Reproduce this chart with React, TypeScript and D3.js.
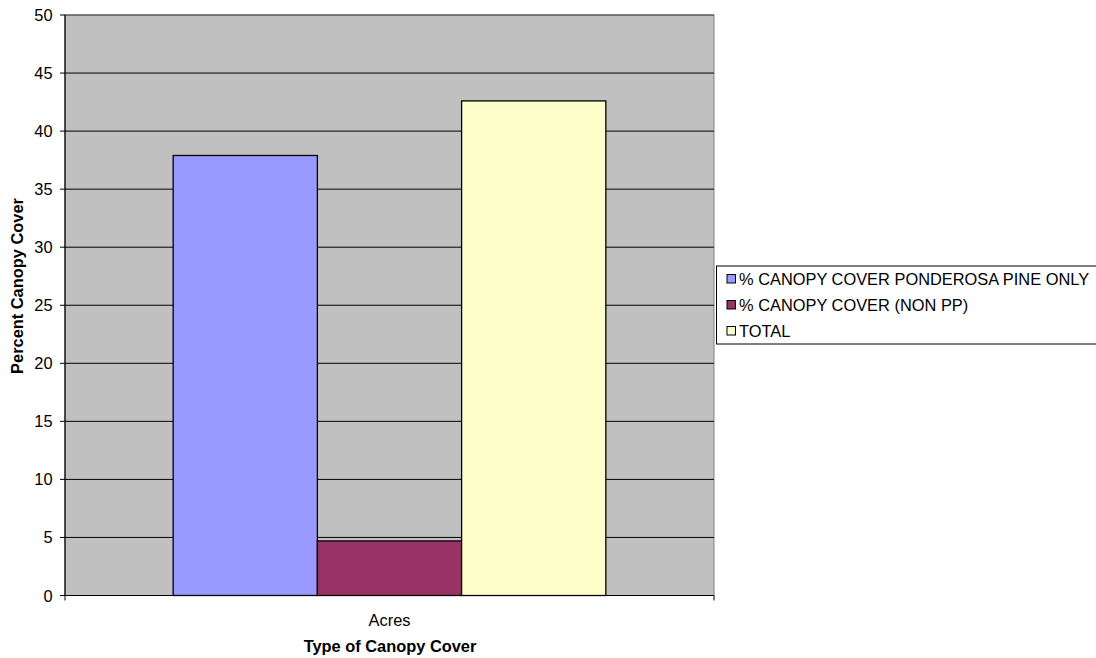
import React from "react";
import * as d3 from "d3";

const categories = ["Acres"];
const seriesNames = [
  "% CANOPY COVER PONDEROSA PINE ONLY",
  "% CANOPY COVER (NON PP)",
  "TOTAL",
];
const seriesValues = [37.9, 4.7, 42.6];
const seriesColors = ["#9999FF", "#993366", "#FFFFCC"];
const yTicks = [0, 5, 10, 15, 20, 25, 30, 35, 40, 45, 50];

const W = 1096;
const H = 658;
const plot = { left: 65, top: 15, right: 714, bottom: 595.5 };
const FONT = "'Liberation Sans', Arial, sans-serif";
const FS = 16.4;

export default function App() {
  const y = d3.scaleLinear().domain([0, 50]).range([plot.bottom, plot.top]);
  const x0 = d3
    .scaleBand<string>()
    .domain(categories)
    .range([plot.left, plot.right])
    .paddingInner(0)
    .paddingOuter(0.25);
  const x1 = d3
    .scaleBand<string>()
    .domain(seriesNames)
    .range([0, x0.bandwidth()]);

  return (
    <svg
      width={W}
      height={H}
      style={{ position: "absolute", left: 0, top: 0, background: "#fff" }}
      fontFamily={FONT}
    >
      <rect
        x={plot.left}
        y={plot.top}
        width={plot.right - plot.left}
        height={plot.bottom - plot.top}
        fill="#C0C0C0"
        stroke="#808080"
        strokeWidth={1}
      />
      {yTicks.map((t) => (
        <g key={t}>
          {t > 0 && t < 50 && (
            <line
              x1={plot.left}
              x2={plot.right}
              y1={y(t)}
              y2={y(t)}
              stroke="#000"
              strokeWidth={1}
            />
          )}
          {t === 50 && (
            <line x1={plot.left} x2={plot.right} y1={y(t)} y2={y(t)} stroke="#404040" strokeWidth={1} />
          )}
          <line x1={plot.left - 5} x2={plot.left} y1={y(t)} y2={y(t)} stroke="#000" />
          <text
            x={plot.left - 12.5}
            y={y(t)}
            textAnchor="end"
            dominantBaseline="central"
            fontSize={FS}
            fill="#000"
          >
            {t}
          </text>
        </g>
      ))}
      {categories.map((c) =>
        seriesNames.map((s, i) => (
          <rect
            key={c + s}
            x={(x0(c) ?? 0) + (x1(s) ?? 0)}
            y={y(seriesValues[i])}
            width={x1.bandwidth()}
            height={y(0) - y(seriesValues[i])}
            fill={seriesColors[i]}
            stroke="#000"
            strokeWidth={1.3}
          />
        ))
      )}
      <line x1={plot.left} x2={plot.left} y1={plot.top} y2={plot.bottom} stroke="#000" strokeWidth={1.2} />
      <line x1={plot.left} x2={plot.right} y1={plot.bottom} y2={plot.bottom} stroke="#000" strokeWidth={1.2} />
      <line x1={plot.left} x2={plot.left} y1={plot.bottom} y2={plot.bottom + 5} stroke="#000" />
      <line x1={plot.right} x2={plot.right} y1={plot.bottom} y2={plot.bottom + 5} stroke="#000" />
      {categories.map((c) => (
        <text
          key={c}
          x={(x0(c) ?? 0) + x0.bandwidth() / 2}
          y={620}
          textAnchor="middle"
          dominantBaseline="central"
          fontSize={FS}
        >
          {c}
        </text>
      ))}
      <text
        x={390}
        y={646}
        textAnchor="middle"
        dominantBaseline="central"
        fontSize={FS}
        fontWeight="bold"
      >
        Type of Canopy Cover
      </text>
      <text
        transform={`translate(16.5,286) rotate(-90)`}
        textAnchor="middle"
        dominantBaseline="central"
        fontSize={FS}
        fontWeight="bold"
      >
        Percent Canopy Cover
      </text>
      <rect x={716.5} y={266} width={W} height={78} fill="#fff" stroke="#000" strokeWidth={1} />
      {seriesNames.map((s, i) => (
        <g key={s} transform={`translate(727,${279 + i * 26})`}>
          <rect x={0} y={-4.5} width={8.5} height={8.5} fill={seriesColors[i]} stroke="#000" strokeWidth={1} />
          <text x={12} y={0} dominantBaseline="central" fontSize={FS}>
            {s}
          </text>
        </g>
      ))}
    </svg>
  );
}
